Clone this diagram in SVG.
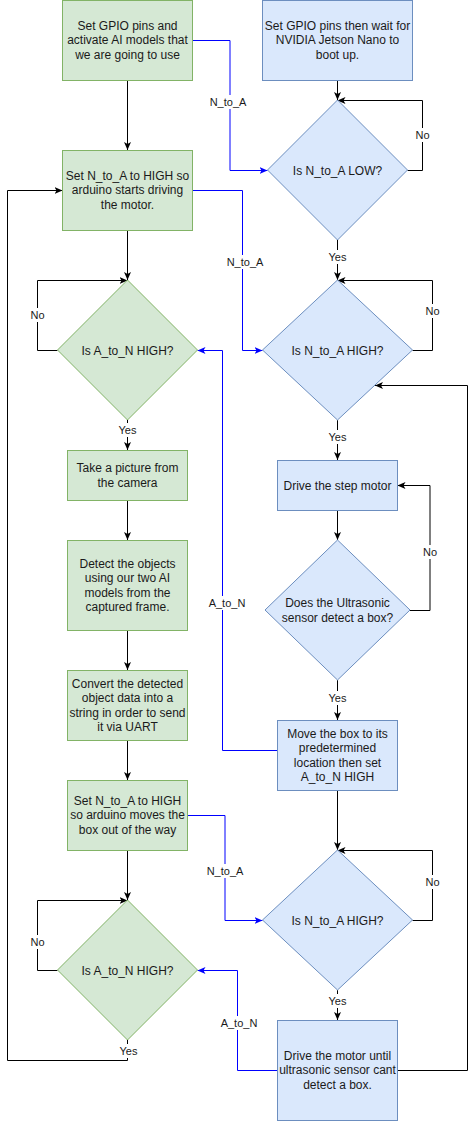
<svg xmlns="http://www.w3.org/2000/svg" width="476" height="1121" viewBox="0 0 476 1121">
<style>
.g{fill:#d5e8d4;stroke:#82b366;stroke-width:1}
.b{fill:#dae8fc;stroke:#6c8ebf;stroke-width:1}
.t{font-family:"Liberation Sans",Arial,sans-serif;font-size:12px;fill:#1a1a1a;text-anchor:middle}
.l{font-family:"Liberation Sans",Arial,sans-serif;font-size:11px;fill:#1a1a1a;text-anchor:middle}
.k{fill:none;stroke:#000;stroke-width:1;marker-end:url(#ak)}
.kn{fill:none;stroke:#000;stroke-width:1}
.u{fill:none;stroke:#0000ff;stroke-width:1;marker-end:url(#au)}
.bg{fill:#fff}
</style>
<defs>
<marker id="ak" viewBox="0 0 8 8" refX="8" refY="4" markerWidth="8" markerHeight="8" orient="auto" markerUnits="userSpaceOnUse"><path d="M0,0.5 L8,4 L0,7.5 L2,4 Z" fill="#000"/></marker>
<marker id="au" viewBox="0 0 8 8" refX="8" refY="4" markerWidth="8" markerHeight="8" orient="auto" markerUnits="userSpaceOnUse"><path d="M0,0.5 L8,4 L0,7.5 L2,4 Z" fill="#0000ff"/></marker>
</defs>

<g id="connectors">
<path class="k" d="M127.5 80.5 V150"/>
<path class="k" d="M337.5 80.5 V100"/>
<path class="k" d="M407.5 170.5 H422.5 V100.5 H337.5"/>
<path class="k" d="M337.5 240 V280"/>
<path class="k" d="M127.5 230 V280"/>
<path class="k" d="M57.5 350.5 H37.5 V280.5 H127.5"/>
<path class="k" d="M412.5 350.5 H432.5 V280.5 H337.5"/>
<path class="k" d="M127.5 420 V450"/>
<path class="k" d="M337.5 420 V460"/>
<path class="k" d="M127.5 500 V540"/>
<path class="k" d="M337.5 510 V540"/>
<path class="k" d="M410 610.5 H430 V485.5 H397.5"/>
<path class="k" d="M127.5 630 V670"/>
<path class="k" d="M337.5 680 V720"/>
<path class="k" d="M127.5 740 V780"/>
<path class="k" d="M337.5 790 V850"/>
<path class="k" d="M127.5 850 V900"/>
<path class="k" d="M57.5 970.5 H37.5 V900.5 H127.5"/>
<path class="k" d="M412.5 920.5 H432.5 V850.5 H337.5"/>
<path class="k" d="M337.5 990 V1020"/>
<path class="k" d="M127.5 1040 V1060.5 H7.5 V190.5 H62.5"/>
<path class="k" d="M397.5 1070.5 H467.5 V385.5 H375"/>
<path class="u" d="M192.5 40.5 H230 V170.5 H267.5"/>
<path class="u" d="M192.5 190.5 H242.5 V350.5 H262.5"/>
<path class="u" d="M277.5 750.5 H222.5 V350.5 H197.5"/>
<path class="u" d="M187.5 815.5 H225 V920.5 H262.5"/>
<path class="u" d="M277.5 1070.5 H237.5 V970.5 H197.5"/>
<g id="edge-labels">
<rect class="bg" x="208" y="95" width="40" height="14"/><text class="l" x="228" y="106">N_to_A</text>
<rect class="bg" x="225" y="255" width="40" height="14"/><text class="l" x="245" y="266">N_to_A</text>
<rect class="bg" x="207" y="596" width="40" height="14"/><text class="l" x="227" y="607">A_to_N</text>
<rect class="bg" x="205" y="864" width="40" height="14"/><text class="l" x="225" y="875">N_to_A</text>
<rect class="bg" x="219" y="1016" width="40" height="14"/><text class="l" x="239" y="1027">A_to_N</text>
<rect class="bg" x="413" y="128" width="19" height="14"/><text class="l" x="422.5" y="139">No</text>
<rect class="bg" x="323" y="250" width="29" height="14"/><text class="l" x="337.5" y="261">Yes</text>
<rect class="bg" x="28" y="308" width="19" height="14"/><text class="l" x="37.5" y="319">No</text>
<rect class="bg" x="423" y="304" width="19" height="14"/><text class="l" x="432.5" y="315">No</text>
<rect class="bg" x="113" y="423" width="29" height="14"/><text class="l" x="127.5" y="434">Yes</text>
<rect class="bg" x="323" y="430" width="29" height="14"/><text class="l" x="337.5" y="441">Yes</text>
<rect class="bg" x="420" y="545" width="19" height="14"/><text class="l" x="430" y="556">No</text>
<rect class="bg" x="323" y="691" width="29" height="14"/><text class="l" x="337.5" y="702">Yes</text>
<rect class="bg" x="28" y="935" width="19" height="14"/><text class="l" x="37.5" y="946">No</text>
<rect class="bg" x="423" y="875" width="19" height="14"/><text class="l" x="432.5" y="886">No</text>
<rect class="bg" x="323" y="994" width="29" height="14"/><text class="l" x="337.5" y="1005">Yes</text>
<rect class="bg" x="114" y="1044" width="29" height="14"/><text class="l" x="128.5" y="1055">Yes</text>
</g>
</g>

<g id="n1"><rect class="g" x="62.5" y="0.5" width="130" height="80"/>
<text class="t" x="127.5" y="30">Set GPIO pins and</text><text class="t" x="127.5" y="44.3">activate AI models that</text><text class="t" x="127.5" y="58.6">we are going to use</text></g>
<g id="n2"><rect class="b" x="262.5" y="0.5" width="150" height="80"/>
<text class="t" x="337.5" y="30">Set GPIO pins then wait for</text><text class="t" x="337.5" y="44.3">NVIDIA Jetson Nano to</text><text class="t" x="337.5" y="58.6">boot up.</text></g>
<g id="n3"><rect class="g" x="62.5" y="150.5" width="130" height="80"/>
<text class="t" x="127.5" y="180">Set N_to_A to HIGH so</text><text class="t" x="127.5" y="194.3">arduino starts driving</text><text class="t" x="127.5" y="208.6">the motor.</text></g>
<g id="n4"><path class="b" d="M337.5 100 L407.5 170 L337.5 240 L267.5 170 Z"/>
<text class="t" x="337.5" y="174.5">Is N_to_A LOW?</text></g>
<g id="n5"><path class="g" d="M127.5 280 L197.5 350 L127.5 420 L57.5 350 Z"/>
<text class="t" x="127.5" y="354.5">Is A_to_N HIGH?</text></g>
<g id="n6"><path class="b" d="M337.5 280 L412.5 350 L337.5 420 L262.5 350 Z"/>
<text class="t" x="337.5" y="354.5">Is N_to_A HIGH?</text></g>
<g id="n7"><rect class="g" x="67.5" y="450.5" width="120" height="50"/>
<text class="t" x="127.5" y="472">Take a picture from</text><text class="t" x="127.5" y="486.5">the camera</text></g>
<g id="n8"><rect class="b" x="277.5" y="460.5" width="120" height="50"/>
<text class="t" x="337.5" y="489.5">Drive the step motor</text></g>
<g id="n9"><rect class="g" x="67.5" y="540.5" width="120" height="90"/>
<text class="t" x="127.5" y="568">Detect the objects</text><text class="t" x="127.5" y="582">using our two AI</text><text class="t" x="127.5" y="596.5">models from the</text><text class="t" x="127.5" y="610.5">captured frame.</text></g>
<g id="n10"><path class="b" d="M337.5 540 L410 610 L337.5 680 L265 610 Z"/>
<text class="t" x="337.5" y="607">Does the Ultrasonic</text><text class="t" x="337.5" y="622">sensor detect a box?</text></g>
<g id="n11"><rect class="g" x="67.5" y="670.5" width="120" height="70"/>
<text class="t" x="127.5" y="688">Convert the detected</text><text class="t" x="127.5" y="702">object data into a</text><text class="t" x="127.5" y="717">string in order to send</text><text class="t" x="127.5" y="731">it via UART</text></g>
<g id="n12"><rect class="b" x="277.5" y="720.5" width="120" height="70"/>
<text class="t" x="337.5" y="737.5">Move the box to its</text><text class="t" x="337.5" y="751.5">predetermined</text><text class="t" x="337.5" y="766.5">location then set</text><text class="t" x="337.5" y="780.5">A_to_N HIGH</text></g>
<g id="n13"><rect class="g" x="67.5" y="780.5" width="120" height="70"/>
<text class="t" x="127.5" y="804.5">Set N_to_A to HIGH</text><text class="t" x="127.5" y="819">so arduino moves the</text><text class="t" x="127.5" y="834">box out of the way</text></g>
<g id="n14"><path class="g" d="M127.5 900 L197.5 970 L127.5 1040 L57.5 970 Z"/>
<text class="t" x="127.5" y="974.5">Is A_to_N HIGH?</text></g>
<g id="n15"><path class="b" d="M337.5 850 L412.5 920 L337.5 990 L262.5 920 Z"/>
<text class="t" x="337.5" y="924.5">Is N_to_A HIGH?</text></g>
<g id="n16"><rect class="b" x="277.5" y="1020.5" width="120" height="100"/>
<text class="t" x="337.5" y="1060">Drive the motor until</text><text class="t" x="337.5" y="1074">ultrasonic sensor cant</text><text class="t" x="337.5" y="1088.5">detect a box.</text></g>
</svg>
